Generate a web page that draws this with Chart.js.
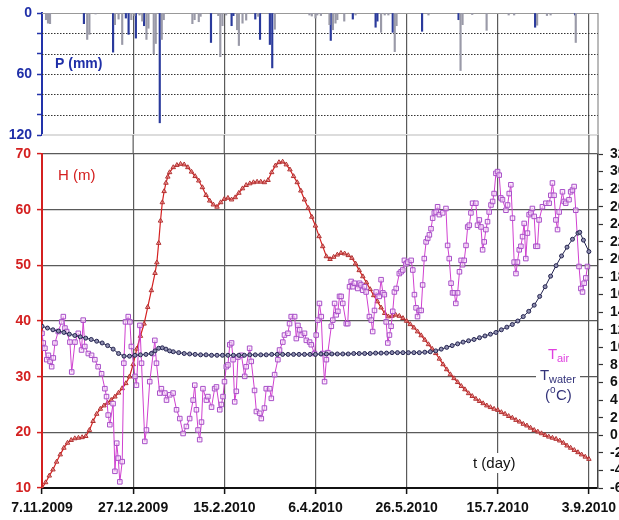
<!DOCTYPE html>
<html lang="en">
<head>
<meta charset="UTF-8">
<title>Reservoir level, temperatures and precipitation</title>
<script src="https://cdn.jsdelivr.net/npm/chart.js"></script>
<style>
  body { margin: 0; background: #fff; }
  #wrap { position: relative; width: 619px; height: 520px; }
  canvas { position: absolute; left: 0; }
  #rainChart { top: 0; }
  #mainChart { top: 135px; }
</style>
</head>
<body>
<div id="wrap">
  <canvas id="rainChart" width="619" height="140"></canvas>
  <canvas id="mainChart" width="619" height="385"></canvas>
</div>
<script>
// time axis: days since 7.11.2009
const tickDays = [0, 50, 100, 150, 200, 250, 300];
const tickDates = ['7.11.2009', '27.12.2009', '15.2.2010', '6.4.2010', '26.5.2010', '15.7.2010', '3.9.2010'];
const rainTicks = [0, 20, 40, 60, 80, 100, 120];
const levelTicks = [10, 20, 30, 40, 50, 60, 70];
const tempTicks = [-6, -4, -2, 0, 2, 4, 6, 8, 10, 12, 14, 16, 18, 20, 22, 24, 26, 28, 30, 32];

// precipitation (mm), two gauges
const rainDaysBlue = [23, 39, 46, 47.5, 51.5, 56, 64.6, 92.7, 104, 105, 117, 119.6, 125, 126.3,
  158.4, 170.5, 183, 184, 192.4, 208.5, 228.5, 270.5, 292.4];
const rainBlue = [10.5, 38.5, 5, 21, 24.7, 12.5, 108, 29, 12.5, 2.6, 6, 26, 31, 54,
  27, 6, 14, 8, 19, 18, 6.6, 14, 2];
const rainDaysGrey = [2.2, 3.3, 4.4, 24.8, 26, 29.4, 40, 42, 44, 49, 50.7, 53.5, 55, 57.3, 58.4,
  61.3, 62.4, 65.7, 66.8, 82.5, 83.7, 86, 87, 96.7, 97.8, 99, 101, 107, 108, 110, 112, 118.6,
  127.7, 146.7, 148, 150, 151, 153, 157.7, 159.6, 161, 162, 165.8, 172, 186, 188, 190, 193.5,
  194.5, 212, 229.6, 230.7, 236, 243.9, 256, 259, 271.6, 277, 279, 292.8];
const rainGrey = [6.6, 10, 10.5, 26, 21, 1, 11.5, 6, 31, 6.6, 2.6, 2, 8, 26, 15,
  40, 30, 26, 6.6, 10.5, 6.6, 8.6, 3.3, 2.6, 43, 12.5, 2, 16.5, 32, 10, 7, 3.3,
  16, 2, 3, 5, 2, 2.5, 11.5, 16.5, 10, 6.6, 8, 2, 19, 2, 2, 38,
  12.5, 2, 56.6, 11.5, 1.5, 17, 2, 2, 12, 2.5, 2, 29];

// water level H (m), [day, value]
const level = [[0, 10.0], [2, 11.0], [4, 12.2], [6, 13.3], [8, 14.7], [10, 16.0], [12, 17.2], [14, 18.1],
  [16, 18.6], [18, 18.9], [20, 19.0], [22, 19.1], [24, 19.3], [26, 20.4], [28, 22.0], [30, 23.3],
  [32, 24.2], [34, 24.8], [36, 25.3], [38, 25.8], [40, 26.4], [42, 27.1], [44, 27.9], [46, 28.8],
  [48, 30.0], [50, 32.2], [52, 35.0], [54, 37.3], [56, 39.5], [58, 42.5], [60, 45.5], [62, 48.6],
  [63, 50.5], [64, 54.0], [65, 58.0], [66, 61.3], [67, 63.3], [68, 64.8], [69, 65.9], [70, 66.7],
  [72, 67.6], [74, 68.0], [76, 68.2], [78, 68.1], [80, 67.6], [82, 66.8], [84, 66.0], [86, 65.2],
  [88, 64.0], [90, 62.6], [92, 61.6], [94, 60.9], [96, 60.5], [98, 61.3], [100, 61.9], [102, 62.1],
  [104, 61.8], [106, 62.2], [108, 63.0], [110, 63.8], [112, 64.4], [114, 64.7], [116, 64.9], [118, 65.0],
  [120, 65.0], [122, 64.9], [124, 65.3], [126, 66.7], [128, 67.9], [130, 68.5], [132, 68.6], [134, 68.1],
  [136, 67.2], [138, 66.0], [140, 64.9], [142, 63.4], [144, 61.8], [146, 60.3], [148, 58.7], [150, 57.1],
  [152, 55.2], [154, 53.4], [156, 51.6], [158, 51.1], [160, 51.5], [162, 51.9], [164, 52.2], [166, 52.1],
  [168, 51.8], [170, 51.3], [172, 50.3], [174, 49.1], [176, 48.0], [178, 46.9], [180, 45.7], [182, 44.6],
  [184, 43.5], [186, 42.4], [188, 41.4], [190, 40.8], [192, 40.9], [194, 41.1], [196, 40.9], [198, 40.5],
  [200, 40.0], [202, 39.4], [204, 38.8], [206, 38.1], [208, 37.4], [210, 36.6], [212, 35.8], [214, 35.0],
  [216, 34.2], [218, 33.2], [220, 32.2], [222, 31.3], [224, 30.4], [226, 29.7], [228, 29.0], [230, 28.3],
  [232, 27.7], [234, 27.0], [236, 26.5], [238, 26.0], [240, 25.6], [242, 25.2], [244, 24.8], [246, 24.5],
  [248, 24.2], [250, 24.0], [252, 23.6], [254, 23.3], [256, 22.9], [258, 22.6], [260, 22.2], [262, 21.9],
  [264, 21.5], [266, 21.2], [268, 20.8], [270, 20.4], [272, 20.1], [274, 19.8], [276, 19.5], [278, 19.2],
  [280, 19.0], [282, 18.8], [284, 18.5], [286, 18.1], [288, 17.6], [290, 17.2], [292, 16.8], [294, 16.4],
  [296, 16.0], [298, 15.6], [300, 15.2]];

// water temperature (°C), [day, value]
const waterTemp = [[0, 12.4], [3, 12.2], [6, 12.0], [9, 11.85], [12, 11.7], [15, 11.5], [18, 11.35],
  [21, 11.2], [24, 11.05], [27, 10.9], [30, 10.7], [33, 10.5], [36, 10.2], [39, 9.8], [42, 9.3],
  [45, 9.0], [48, 9.0], [51, 9.1], [54, 9.15], [57, 9.2], [60, 9.3], [62, 9.6], [64, 9.9], [66, 9.95],
  [68, 9.8], [70, 9.6], [72, 9.5], [75, 9.4], [78, 9.3], [81, 9.25], [84, 9.2], [87, 9.15], [90, 9.15],
  [93, 9.1], [96, 9.1], [99, 9.1], [102, 9.1], [105, 9.1], [108, 9.1], [111, 9.1], [114, 9.15],
  [117, 9.15], [120, 9.15], [123, 9.15], [126, 9.2], [129, 9.2], [132, 9.2], [135, 9.2], [138, 9.2],
  [141, 9.2], [144, 9.2], [147, 9.2], [150, 9.2], [153, 9.25], [156, 9.25], [159, 9.25], [162, 9.25],
  [165, 9.25], [168, 9.25], [171, 9.3], [174, 9.3], [177, 9.3], [180, 9.3], [183, 9.35], [186, 9.35],
  [189, 9.35], [192, 9.4], [195, 9.4], [198, 9.4], [201, 9.4], [204, 9.4], [207, 9.4], [210, 9.45],
  [213, 9.5], [216, 9.6], [219, 9.8], [222, 10.0], [225, 10.2], [228, 10.4], [231, 10.6], [234, 10.75],
  [237, 10.9], [240, 11.1], [243, 11.3], [246, 11.5], [249, 11.7], [252, 12.0], [255, 12.3], [258, 12.6],
  [261, 13.0], [264, 13.5], [267, 14.1], [270, 14.8], [273, 15.8], [276, 16.9], [279, 18.1], [282, 19.3],
  [285, 20.4], [288, 21.4], [291, 22.3], [294, 23.0], [295, 23.1], [297, 22.2], [300, 20.9]];

// air temperature (°C), [day, value]
const airTemp = [[0, 11.6], [0.7, 10.5], [1.6, 9.9], [2.6, 8.6], [3.5, 9.1], [4.4, 8.4], [5.3, 7.8],
  [6.2, 8.8], [7.1, 10.5], [8.9, 11.8], [10.8, 12.9], [11.7, 13.5], [12.6, 12.2], [13.5, 11.8],
  [15.3, 10.6], [16.3, 7.2], [18.1, 10.6], [19.9, 11.6], [21.7, 9.7], [22.6, 13.1], [23.5, 10.1],
  [25.4, 9.3], [27.2, 9.1], [29, 8.6], [30.8, 7.8], [32.7, 7.0], [34.5, 5.3], [35.4, 4.4], [36.3, 2.3],
  [37.2, 1.2], [39, 3.6], [40, -4.1], [41, -0.9], [41.8, -2.6], [42.7, -5.3], [44, -3.0], [44.9, 8.2],
  [45.8, 12.9], [47.3, 13.5], [48.2, 12.9], [49, 10.1], [51, 6.7], [51.8, 5.7], [53.7, 12.5], [54.6, 8.2],
  [56.4, -0.7], [57.3, 0.6], [59.1, 6.1], [61, 9.3], [61.9, 10.8], [62.8, 8.2], [64.6, 4.8], [65.5, 5.3],
  [67.4, 4.8], [68.3, 4.0], [70.1, 4.6], [71.9, 4.8], [73.8, 2.9], [75.6, 1.9], [77.4, 0.2], [79.2, 1.0],
  [81, 1.9], [82.9, 4.0], [83.8, 5.7], [84.7, 2.9], [85.6, 0.6], [86.5, -0.5], [87.5, 1.5], [88.3, 5.3],
  [90.2, 4.0], [91, 4.4], [93, 3.2], [94.7, 5.3], [95.7, 5.5], [97.5, 2.9], [98.4, 3.5], [99.3, 4.4],
  [100.1, 6.1], [101.1, 7.8], [102, 8.0], [103, 10.3], [104, 10.5], [104.8, 8.6], [105.7, 3.8],
  [106.6, 5.0], [107.5, 8.9], [109.4, 9.1], [111.2, 6.7], [112, 7.8], [113.9, 9.9], [114.8, 8.4],
  [116.6, 5.1], [117.6, 2.7], [119.4, 2.5], [120.3, 1.9], [122, 3.1], [123, 5.3], [124.9, 5.3],
  [125.8, 4.2], [127.6, 6.9], [129.4, 8.6], [130.3, 9.7], [132.1, 10.6], [133, 11.4], [134.9, 11.6],
  [135.8, 12.7], [136.7, 13.5], [138.6, 13.5], [139.5, 11.0], [140.4, 12.5], [141.3, 12.0], [142.2, 11.4],
  [144, 11.6], [145, 10.8], [146.8, 10.6], [147.7, 10.3], [149.5, 9.3], [150.4, 11.4], [151.3, 13.1],
  [152.2, 15.0], [153.2, 13.5], [154, 9.3], [155, 6.1], [156, 8.6], [156.8, 9.4], [158.7, 12.4],
  [159.5, 13.1], [160.5, 15.0], [161.4, 13.7], [162.3, 14.1], [163.2, 15.8], [164.1, 15.8], [165, 15.0],
  [166.9, 12.7], [167.7, 12.7], [168.7, 16.9], [169.6, 17.5], [170.5, 16.9], [171.4, 17.3], [173.2, 16.7],
  [174.2, 17.3], [175, 17.1], [176, 16.5], [176.9, 16.9], [177.8, 16.3], [179.6, 13.5], [180.6, 13.1],
  [181.4, 11.8], [182.4, 14.2], [183.3, 16.3], [185, 15.8], [186, 17.7], [187, 16.2], [187.8, 16.0],
  [188.8, 12.9], [189.7, 10.5], [190.6, 11.4], [191.5, 12.4], [192.4, 14.1], [193.3, 16.3], [194.3, 16.7],
  [196, 18.4], [197, 18.6], [197.9, 18.8], [198.8, 19.9], [199.7, 19.5], [200.6, 19.7], [202.5, 19.9],
  [203.4, 18.8], [204.3, 16.0], [205.2, 14.5], [206, 13.5], [207, 14.2], [208, 14.2], [208.8, 17.1],
  [209.7, 20.1], [210.7, 22.0], [211.6, 22.4], [212.5, 22.8], [213.4, 23.5], [214.3, 24.7], [215.2, 25.3],
  [216.2, 25.4], [217, 26.0], [218, 25.1], [219.8, 25.3], [221.6, 25.8], [222.5, 21.6], [223.4, 20.1],
  [224.4, 17.3], [225.2, 16.2], [226.2, 16.2], [227, 15.0], [228, 16.2], [229, 18.6], [229.9, 19.9],
  [230.7, 19.4], [231.6, 19.9], [232.6, 21.6], [233.5, 23.7], [234.4, 23.9], [235.3, 25.3], [236.2, 26.4],
  [238, 26.4], [238.9, 23.9], [239.9, 24.5], [240.8, 23.7], [241.7, 21.1], [242.6, 22.0], [243.5, 23.4],
  [244.4, 24.3], [245.3, 25.4], [246.3, 26.2], [247.2, 26.6], [248, 27.5], [249, 29.8], [249.9, 30.0],
  [250.8, 29.6], [251.7, 27.0], [252.6, 26.8], [254.5, 25.6], [255.4, 26.2], [256.3, 27.5], [257.2, 28.5],
  [258.1, 24.7], [259, 19.7], [260, 18.4], [260.8, 19.7], [261.8, 21.1], [262.7, 21.5], [263.6, 22.6],
  [264.5, 24.1], [265.4, 20.1], [266.3, 23.0], [267.2, 25.1], [268.2, 25.3], [269, 25.8], [270, 24.9],
  [270.9, 21.5], [271.8, 21.5], [272.7, 24.5], [274.5, 26.0], [276.4, 26.4], [278.2, 26.4], [279.1, 27.3],
  [280, 28.7], [280.9, 27.3], [281.9, 24.5], [282.8, 23.4], [283.7, 25.4], [285.5, 27.7], [286.4, 26.6],
  [287.3, 26.4], [289.1, 26.8], [290, 27.7], [291, 27.9], [291.9, 28.3], [292.8, 25.6], [294.6, 19.2],
  [295.6, 16.7], [296.5, 16.3], [297.4, 17.3], [298.3, 17.9], [299.2, 19.2]];

const FONT = '"Liberation Sans", Arial, sans-serif';
const GRID = '#5a5a5a';
const RED = '#d42020';
const BLUE = '#1f2fa8';

Chart.defaults.font.family = FONT;
Chart.defaults.animation = false;

const toXY = (xs, ys) => xs.map((x, i) => ({ x: x, y: ys[i] }));
const pairsXY = rows => rows.map(r => ({ x: r[0], y: r[1] }));

function fixedTicks(values) {
  return scale => { scale.ticks = values.map(v => ({ value: v })); };
}
function fixWidth(w) {
  return scale => { scale.width = w; scale.paddingTop = 0; scale.paddingBottom = 0; };
}
function fixHeight(h) {
  return scale => { scale.height = h; scale.paddingLeft = 0; scale.paddingRight = 0; };
}

// dotted rain grid + panel frame
const rainFrame = {
  id: 'rainFrame',
  beforeDatasetsDraw(chart) {
    const { ctx, chartArea: a, scales: { y } } = chart;
    ctx.save();
    ctx.lineWidth = 1;
    ctx.strokeStyle = '#333';
    ctx.setLineDash([1.5, 1.5]);
    rainTicks.slice(1, -1).forEach(v => {
      const py = Math.round(y.getPixelForValue(v)) + 0.5;
      ctx.beginPath(); ctx.moveTo(a.left, py); ctx.lineTo(a.right, py); ctx.stroke();
    });
    ctx.setLineDash([]);
    ctx.strokeStyle = '#999';
    ctx.beginPath(); ctx.moveTo(a.left, a.top + 0.5); ctx.lineTo(a.right, a.top + 0.5); ctx.stroke();
    ctx.strokeStyle = '#777';
    ctx.beginPath(); ctx.moveTo(a.right, a.top); ctx.lineTo(a.right, a.bottom); ctx.stroke();
    ctx.strokeStyle = '#dcdcdc';
    ctx.lineWidth = 2;
    ctx.beginPath(); ctx.moveTo(a.left, a.bottom); ctx.lineTo(a.right, a.bottom); ctx.stroke();
    ctx.restore();
  },
  afterDraw(chart) {
    const ctx = chart.ctx;
    ctx.save();
    ctx.fillStyle = BLUE;
    ctx.font = 'bold 14px ' + FONT;
    ctx.fillText('P (mm)', 55, 68);
    ctx.restore();
  }
};

new Chart(document.getElementById('rainChart'), {
  type: 'bar',
  data: {
    datasets: [
      { data: toXY(rainDaysGrey, rainGrey), backgroundColor: '#9a9aa8', barThickness: 1.5, grouped: false },
      { data: toXY(rainDaysBlue, rainBlue), backgroundColor: '#2a3a9c', barThickness: 1.5, grouped: false }
    ]
  },
  options: {
    responsive: false,
    layout: { padding: { top: 13, right: 21, bottom: 5, left: 0 } },
    plugins: { legend: { display: false }, tooltip: { enabled: false } },
    scales: {
      x: {
        type: 'linear', min: 0, max: 305, offset: false,
        afterBuildTicks: fixedTicks(tickDays),
        afterFit: fixHeight(0),
        ticks: { display: false },
        border: { display: false },
        grid: { offset: false, color: ctx => (ctx.tick && ctx.tick.value === 0 ? 'rgba(0,0,0,0)' : GRID),
                lineWidth: 1.2, drawTicks: false }
      },
      y: {
        position: 'left', reverse: true, min: 0, max: 120,
        afterBuildTicks: fixedTicks(rainTicks),
        afterFit: fixWidth(42),
        grid: { drawOnChartArea: false, tickLength: 5, tickColor: '#2233aa', tickWidth: 1.5 },
        border: { color: '#2233aa', width: 2 },
        ticks: { color: BLUE, font: { size: 14, weight: 'bold' }, padding: 5, autoSkip: false,
                 callback: v => (v % 60 === 0 ? v : '') }
      }
    }
  },
  plugins: [rainFrame]
});

// grid continuation into the gap above, and the text labels
const mainDecor = {
  id: 'mainDecor',
  afterDraw(chart) {
    const { ctx, chartArea: a, scales: { x } } = chart;
    ctx.save();
    ctx.strokeStyle = GRID;
    ctx.lineWidth = 1.2;
    tickDays.slice(1).forEach(d => {
      const px = x.getPixelForValue(d);
      ctx.beginPath(); ctx.moveTo(px, 0); ctx.lineTo(px, a.top); ctx.stroke();
    });
    ctx.strokeStyle = '#777';
    ctx.lineWidth = 1.5;
    ctx.beginPath(); ctx.moveTo(a.right, 0); ctx.lineTo(a.right, a.top); ctx.stroke();

    ctx.textBaseline = 'alphabetic';
    ctx.fillStyle = RED;
    ctx.font = '15px ' + FONT;
    ctx.fillText('H (m)', 58, 45);

    ctx.fillStyle = '#fff';
    ctx.fillRect(536, 228, 44, 22);
    ctx.fillRect(469, 318, 52, 20);

    ctx.fillStyle = '#e040e0';
    ctx.font = '15px ' + FONT;
    ctx.fillText('T', 548, 224);
    ctx.font = '11px ' + FONT;
    ctx.fillText('air', 557, 227);

    ctx.fillStyle = '#33337a';
    ctx.font = '15px ' + FONT;
    ctx.fillText('T', 540, 245);
    ctx.font = '11px ' + FONT;
    ctx.fillText('water', 549, 248);
    ctx.font = '15px ' + FONT;
    ctx.fillText('(', 545, 265);
    ctx.font = '10px ' + FONT;
    ctx.fillText('o', 550, 258);
    ctx.font = '15px ' + FONT;
    ctx.fillText('C)', 556, 265);

    ctx.fillStyle = '#111';
    ctx.font = '15px ' + FONT;
    ctx.fillText('t (day)', 473, 333);
    ctx.restore();
  }
};

new Chart(document.getElementById('mainChart'), {
  type: 'line',
  data: {
    datasets: [
      { label: 'T water', data: pairsXY(waterTemp), yAxisID: 't',
        borderColor: '#23234f', borderWidth: 1, pointStyle: 'circle', pointRadius: 2,
        pointBorderWidth: 1, pointBorderColor: '#23234f', pointBackgroundColor: '#9090b0' },
      { label: 'T air', data: pairsXY(airTemp), yAxisID: 't',
        borderColor: '#d040d0', borderWidth: 1, pointStyle: 'rect', pointRadius: 3.2,
        pointBorderWidth: 1, pointBorderColor: '#a850c8', pointBackgroundColor: 'rgba(250,225,250,0.6)' },
      { label: 'H', data: pairsXY(level), yAxisID: 'h',
        borderColor: RED, borderWidth: 1.2, pointStyle: 'triangle', pointRadius: 2.6,
        pointBorderWidth: 1, pointBorderColor: '#b03030', pointBackgroundColor: 'rgba(240,150,150,0.5)' }
    ]
  },
  options: {
    responsive: false,
    layout: { padding: { top: 19, right: 0, bottom: 0, left: 0 } },
    elements: { line: { tension: 0 } },
    plugins: { legend: { display: false }, tooltip: { enabled: false } },
    scales: {
      x: {
        type: 'linear', min: 0, max: 305, offset: false,
        afterBuildTicks: fixedTicks(tickDays),
        afterFit: fixHeight(32),
        grid: { color: ctx => (ctx.tick && ctx.tick.value === 0 ? 'rgba(0,0,0,0)' : GRID),
                lineWidth: 1.2, tickLength: 6, tickColor: '#111', tickWidth: 1.5 },
        border: { color: '#111', width: 2 },
        ticks: { color: '#111', font: { size: 14, weight: 'bold' }, padding: 6, maxRotation: 0, autoSkip: false,
                 callback: v => tickDates[tickDays.indexOf(v)] }
      },
      h: {
        position: 'left', min: 10, max: 70,
        afterBuildTicks: fixedTicks(levelTicks),
        afterFit: fixWidth(42),
        grid: { color: ctx => (ctx.tick && ctx.tick.value === 10 ? 'rgba(0,0,0,0)' : GRID),
                lineWidth: 1.2, tickLength: 5, tickColor: RED, tickWidth: 1.5 },
        border: { color: RED, width: 2 },
        ticks: { color: RED, font: { size: 14, weight: 'bold' }, padding: 6, autoSkip: false }
      },
      t: {
        position: 'right', min: -6, max: 32,
        afterBuildTicks: fixedTicks(tempTicks),
        afterFit: fixWidth(21),
        grid: { drawOnChartArea: false, tickLength: 5, tickColor: '#333', tickWidth: 1.2 },
        border: { color: '#444', width: 1.5 },
        ticks: { color: '#111', font: { size: 14, weight: 'bold' }, padding: 7, autoSkip: false }
      }
    }
  },
  plugins: [mainDecor]
});
</script>
</body>
</html>
